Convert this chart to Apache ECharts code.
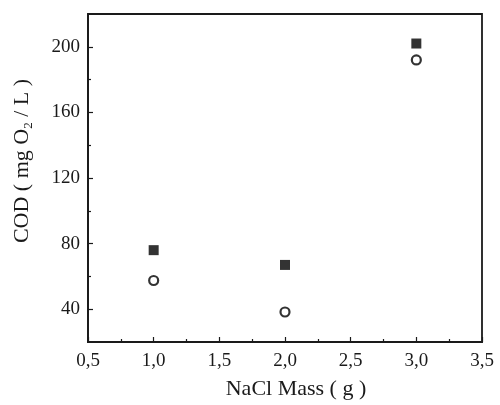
<!DOCTYPE html>
<html>
<head>
<meta charset="utf-8">
<script src="https://cdn.jsdelivr.net/npm/echarts@6/dist/echarts.min.js"></script>
<style>
  html, body { margin: 0; padding: 0; background: #fff; }
  #chart { width: 500px; height: 405px; }
</style>
</head>
<body>
<div id="chart"></div>
<script>
// NaCl mass (g) and measured COD (mg O2/L) for the two sample sets
const nacl = [1.0, 2.0, 3.0];
const codFilled = [76, 67, 202];
const codOpen = [57.5, 38.3, 192];

const xTicks = [0.5, 1.0, 1.5, 2.0, 2.5, 3.0, 3.5];
const yMajor = [40, 80, 120, 160, 200];
const yMinor = [60, 100, 140, 180];

const FONT = '"Liberation Serif", "DejaVu Serif", serif';
const INK = '#1a1a1a';

const chart = echarts.init(document.getElementById('chart'), null, { renderer: 'canvas' });

chart.setOption({
  animation: false,
  backgroundColor: '#fff',
  grid: {
    left: 88, right: 18, top: 14, bottom: 58,
    show: true, borderColor: INK, borderWidth: 1.8, backgroundColor: 'transparent'
  },
  xAxis: {
    type: 'value',
    min: xTicks[0], max: xTicks[xTicks.length - 1], interval: 0.5,
    name: 'NaCl Mass ( g )',
    nameLocation: 'middle', nameGap: 36,
    nameTextStyle: { fontFamily: FONT, fontSize: 22, color: INK, padding: [0, 0, 0, 22] },
    axisLine: { lineStyle: { color: INK, width: 1.8 } },
    axisTick: { inside: true, length: 5, lineStyle: { color: INK, width: 1.2 } },
    minorTick: { show: true, splitNumber: 2, length: 3, lineStyle: { color: INK, width: 1.2 } },
    splitLine: { show: false },
    axisLabel: {
      fontFamily: FONT, fontSize: 19, color: INK, margin: 10,
      formatter: v => v.toFixed(1).replace('.', ',')
    }
  },
  yAxis: [
    {
      type: 'value', min: 20, max: 220, interval: 20,
      name: '{a|COD ( mg O}{s|2}{a| / L )}',
      nameLocation: 'middle', nameGap: 53, nameRotate: 90,
      nameTextStyle: {
        fontFamily: FONT, color: INK, padding: [0, 0, 0, 34],
        rich: {
          a: { fontFamily: FONT, fontSize: 22, color: INK, lineHeight: 26 },
          s: { fontFamily: FONT, fontSize: 13, color: INK, lineHeight: 9, verticalAlign: 'bottom' }
        }
      },
      axisLine: { lineStyle: { color: INK, width: 1.8 } },
      axisTick: { inside: true, length: 5, lineStyle: { color: INK, width: 1.2 }, customValues: yMajor },
      splitLine: { show: false },
      axisLabel: {
        fontFamily: FONT, fontSize: 19, color: INK, margin: 8,
        customValues: yMajor
      }
    },
    {
      type: 'value', min: 20, max: 220, interval: 20, position: 'left',
      axisLine: { show: false },
      axisTick: { inside: true, length: 3, lineStyle: { color: INK, width: 1.2 }, customValues: yMinor },
      axisLabel: { show: false },
      splitLine: { show: false }
    }
  ],
  series: [
    {
      type: 'scatter', yAxisIndex: 0,
      symbol: 'rect', symbolSize: 10,
      itemStyle: { color: '#000' },
      data: nacl.map((x, i) => [x, codFilled[i]])
    },
    {
      type: 'scatter', yAxisIndex: 0,
      symbol: 'circle', symbolSize: 9,
      itemStyle: { color: '#fff', borderColor: '#000', borderWidth: 2.2 },
      data: nacl.map((x, i) => [x, codOpen[i]])
    }
  ]
});
</script>
</body>
</html>
